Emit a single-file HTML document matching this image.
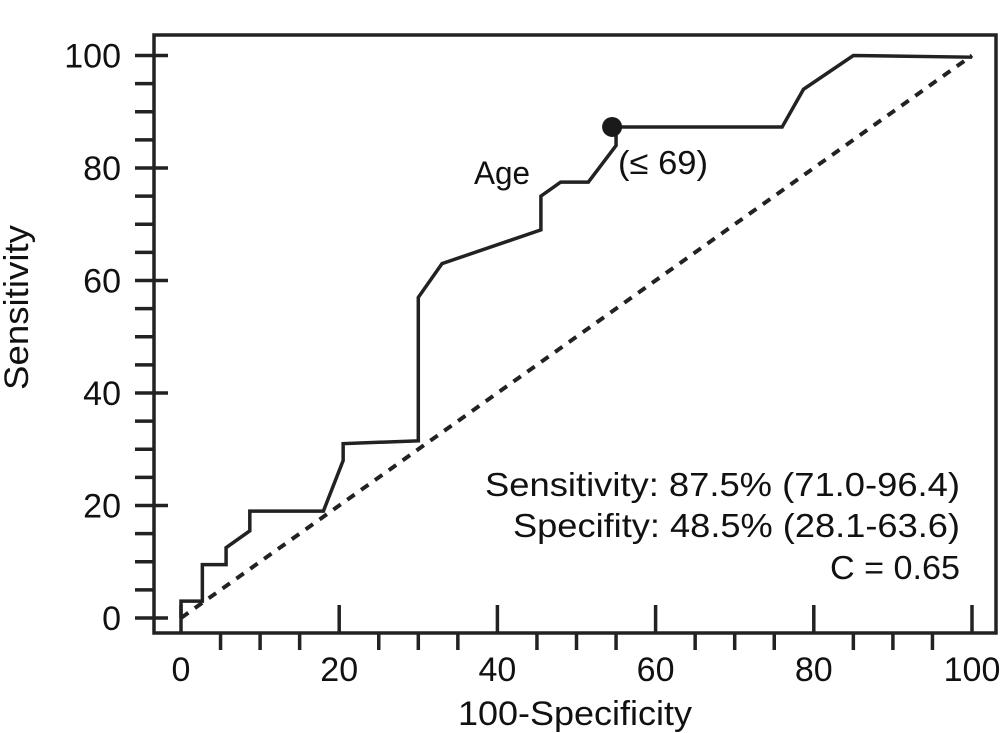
<!DOCTYPE html>
<html><head><meta charset="utf-8"><style>
html,body{margin:0;padding:0;background:#fff;}
svg{display:block;font-family:"Liberation Sans","DejaVu Sans",sans-serif;}
</style></head><body>
<svg id="chart" width="1001" height="733" viewBox="0 0 1001 733">
<rect x="0" y="0" width="1001" height="733" fill="#fff"/>
<g id="axes"></g>
<g id="marks"></g>
<text x="474" y="184" font-size="32" textLength="56" lengthAdjust="spacingAndGlyphs" fill="#111">Age</text>
<text x="618" y="174" font-size="33" textLength="90" lengthAdjust="spacingAndGlyphs" fill="#111">(≤ 69)</text>
<g font-size="33" fill="#111">
<text x="485" y="496" textLength="475" lengthAdjust="spacingAndGlyphs">Sensitivity: 87.5% (71.0-96.4)</text>
<text x="513" y="537" textLength="447" lengthAdjust="spacingAndGlyphs">Specifity: 48.5% (28.1-63.6)</text>
<text x="830" y="579" textLength="130" lengthAdjust="spacingAndGlyphs">C = 0.65</text>
</g>
<text x="458" y="725" font-size="34" textLength="234" lengthAdjust="spacingAndGlyphs" fill="#111">100-Specificity</text>
<text x="0" y="0" font-size="34" textLength="165" lengthAdjust="spacingAndGlyphs" fill="#111" transform="translate(28,390) rotate(-90)">Sensitivity</text>
</svg>
<script>
const xTicks=[0,20,40,60,80,100];
const yTicks=[0,20,40,60,80,100];
const rocX=[0,0,2.7,2.7,5.7,5.7,8.7,8.7,18,20.5,20.5,30,30,33,45.5,45.5,48,51.5,55,55,76,78.7,85,100];
const rocY=[0,3,3,9.5,9.5,12.5,15.5,19,19,28,31,31.5,57,63,69,75,77.5,77.5,84,87.3,87.3,94,100,99.7];
const cutX=[54.5];
const cutY=[87.3];
const refX=[0,100];
const refY=[0,100];
const sx=v=>181+v*7.91;
const sy=v=>618-v*5.625;
const NS='http://www.w3.org/2000/svg';
const axes=document.getElementById('axes');
const marks=document.getElementById('marks');
function mk(tag,attrs,parent){const e=document.createElementNS(NS,tag);for(const k in attrs)e.setAttribute(k,attrs[k]);parent.appendChild(e);return e;}
const frame=mk('rect',{x:154,y:35,width:842,height:598,fill:'none',stroke:'#222','stroke-width':3.5},axes);


for(let v=0;v<=100;v+=5){
  const x=sx(v);const major=v%20===0;
  const t=mk('line',{x1:x,x2:x,y1:major?605:633,y2:major?633:650,stroke:'#222','stroke-width':3.5},axes);
  
  
  const y=sy(v);
  const u=mk('line',{x1:135,x2:major?168:154,y1:y,y2:y,stroke:'#222','stroke-width':3.5},axes);
  
  
}
xTicks.forEach(v=>{
  const t=mk('text',{x:sx(v),y:681,'font-size':34,fill:'#111','text-anchor':'middle'},axes);
  t.textContent=String(v);
  
  
});
yTicks.forEach(v=>{
  const t=mk('text',{x:121,y:sy(v)+12,'font-size':34,fill:'#111','text-anchor':'end'},axes);
  t.textContent=String(v);
  
  
});
const ref=mk('line',{x1:sx(refX[0]),y1:sy(refY[0]),x2:sx(refX[1]),y2:sy(refY[1]),stroke:'#222','stroke-width':4,'stroke-dasharray':'9 8'},marks);


const pts=rocX.map((x,i)=>sx(x)+','+sy(rocY[i])).join(' ');
const roc=mk('polyline',{points:pts,fill:'none',stroke:'#222','stroke-width':3.5,'stroke-linejoin':'miter'},marks);


cutX.forEach((x,i)=>{
  const c=mk('circle',{cx:sx(x),cy:sy(cutY[i]),r:10,fill:'#1a1a1a'},marks);
  
  
});
</script>
</body></html>
